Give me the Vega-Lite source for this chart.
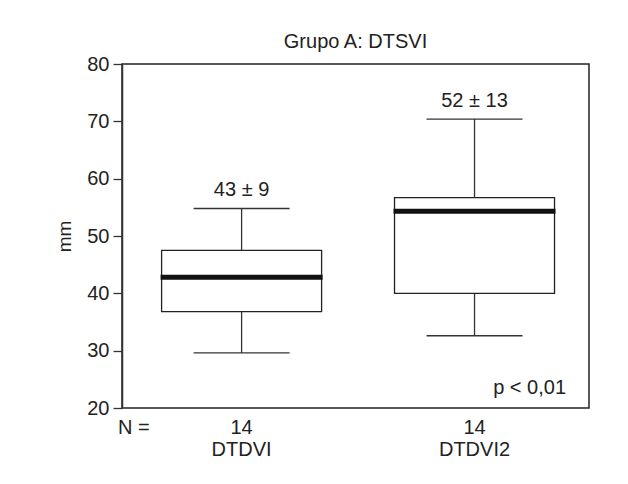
{
  "$schema": "https://vega.github.io/schema/vega-lite/v6.json",
  "width": 467,
  "height": 344,
  "autosize": {"type": "none"},
  "padding": {"left": 122, "top": 64, "right": 39, "bottom": 76},
  "background": "white",
  "config": {
    "font": "Liberation Sans",
    "view": {"stroke": "#222", "strokeWidth": 1.5},
    "axis": {"domainColor": "#333", "tickColor": "#333", "labelColor": "#222", "titleColor": "#222", "grid": false}
  },
  "title": {"text": "Grupo A: DTSVI", "fontSize": 20, "fontWeight": "normal", "color": "#222", "offset": 2, "font": "Liberation Sans"},
  "datasets": {
    "boxes": [
      {"group": "DTDVI", "pos": 1, "n": 14, "lower": 29.6, "q1": 36.8, "median": 42.8, "q3": 47.5, "upper": 54.8, "label": "43 ± 9"},
      {"group": "DTDVI2", "pos": 2, "n": 14, "lower": 32.6, "q1": 40.0, "median": 54.3, "q3": 56.7, "upper": 70.4, "label": "52 ± 13"}
    ],
    "notes": [
      {"note": "N =", "where": "left"},
      {"note": "p < 0,01", "where": "right"}
    ]
  },
  "layer": [
    {
      "data": {"name": "boxes"},
      "layer": [
        {
          "mark": {"type": "rule", "color": "#333", "strokeWidth": 1.3},
          "encoding": {
            "x": {"field": "pos", "type": "quantitative", "scale": {"domain": [0.508, 2.47], "nice": false, "zero": false}, "axis": null},
            "y": {"field": "lower", "type": "quantitative", "scale": {"domain": [20, 80], "nice": false, "zero": false},
              "axis": {"title": "mm", "values": [20, 30, 40, 50, 60, 70, 80], "tickSize": 9, "tickWidth": 1.3, "domainWidth": 1.5, "labelFontSize": 20, "labelPadding": 4, "titleFontSize": 19, "titleFontWeight": "normal", "titlePadding": 12}},
            "y2": {"field": "upper"}
          }
        },
        {
          "mark": {"type": "tick", "orient": "horizontal", "size": 96, "thickness": 1.3, "color": "#333", "opacity": 1},
          "encoding": {"x": {"field": "pos", "type": "quantitative"}, "y": {"field": "lower", "type": "quantitative"}}
        },
        {
          "mark": {"type": "tick", "orient": "horizontal", "size": 96, "thickness": 1.3, "color": "#333", "opacity": 1},
          "encoding": {"x": {"field": "pos", "type": "quantitative"}, "y": {"field": "upper", "type": "quantitative"}}
        },
        {
          "mark": {"type": "bar", "size": 160, "fill": "white", "stroke": "#222", "strokeWidth": 1.3},
          "encoding": {"x": {"field": "pos", "type": "quantitative"}, "y": {"field": "q1", "type": "quantitative"}, "y2": {"field": "q3"}}
        },
        {
          "mark": {"type": "tick", "orient": "horizontal", "size": 162, "thickness": 5, "color": "#111", "opacity": 1},
          "encoding": {"x": {"field": "pos", "type": "quantitative"}, "y": {"field": "median", "type": "quantitative"}}
        },
        {
          "mark": {"type": "text", "fontSize": 20, "color": "#222", "baseline": "alphabetic", "dy": -12},
          "encoding": {"x": {"field": "pos", "type": "quantitative"}, "y": {"field": "upper", "type": "quantitative"}, "text": {"field": "label"}}
        },
        {
          "mark": {"type": "text", "fontSize": 20, "color": "#222", "baseline": "top", "dy": 10},
          "encoding": {"x": {"field": "pos", "type": "quantitative"}, "y": {"datum": 20}, "text": {"field": "n"}}
        },
        {
          "mark": {"type": "text", "fontSize": 20, "color": "#222", "baseline": "top", "dy": 32},
          "encoding": {"x": {"field": "pos", "type": "quantitative"}, "y": {"datum": 20}, "text": {"field": "group"}}
        }
      ]
    },
    {
      "data": {"name": "notes"},
      "transform": [{"filter": "datum.where == 'left'"}],
      "mark": {"type": "text", "fontSize": 20, "color": "#222", "baseline": "top", "align": "left", "dy": 10, "dx": -9},
      "encoding": {"x": {"datum": 0.508, "type": "quantitative"}, "y": {"datum": 20, "type": "quantitative"}, "text": {"field": "note"}}
    },
    {
      "data": {"name": "notes"},
      "transform": [{"filter": "datum.where == 'right'"}],
      "mark": {"type": "text", "fontSize": 20, "color": "#222", "baseline": "alphabetic", "align": "right", "dx": -18, "dy": -14},
      "encoding": {"x": {"datum": 2.47, "type": "quantitative"}, "y": {"datum": 20, "type": "quantitative"}, "text": {"field": "note"}}
    }
  ]
}
